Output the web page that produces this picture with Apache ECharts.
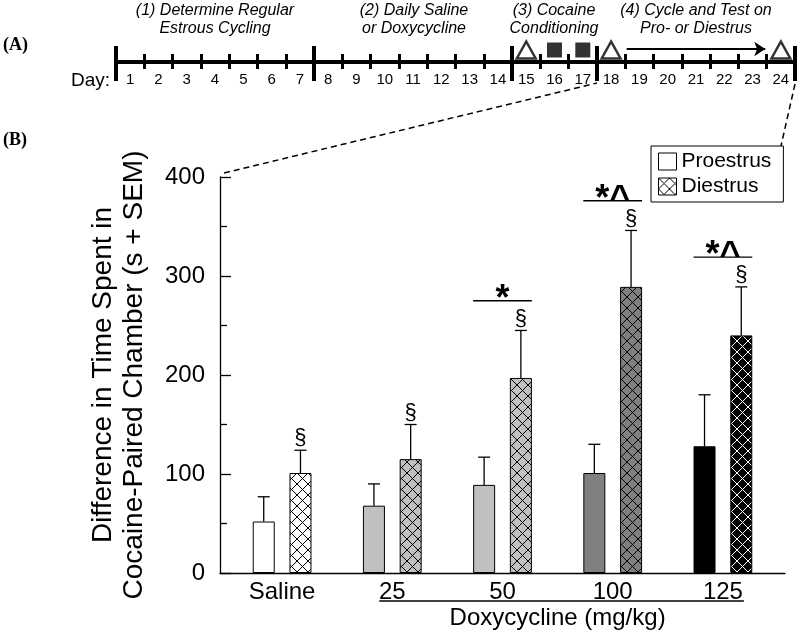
<!DOCTYPE html>
<html>
<head>
<meta charset="utf-8">
<script src="https://cdn.jsdelivr.net/npm/echarts@6/dist/echarts.min.js"></script>
<style>
  html, body { margin: 0; padding: 0; background: #fff; }
  #main { width: 800px; height: 634px; }
</style>
</head>
<body>
<div id="main"></div>
<script>
// group data (s, mean + SEM)
const doseGroups = ['Saline', '25', '50', '100', '125']
const proestrusMean = [52, 68, 89, 101, 128]
const proestrusSem = [25, 22, 28, 29, 52]
const diestrusMean = [101, 115, 197, 289, 240]
const diestrusSem = [23, 35, 48, 57, 49]
const diestrusMarks = ['§', '§', '§', '§', '§']
const groupMarks = ['', '', '*', '*^', '*^']

// timeline (A)
const days = ['1', '2', '3', '4', '5', '6', '7', '8', '9', '10', '11', '12',
  '13', '14', '15', '16', '17', '18', '19', '20', '21', '22', '23', '24']
const phaseBounds = [0, 7, 14, 17, 24]
const dayBounds = [1, 2, 3, 4, 5, 6, 8, 9, 10, 11, 12, 13, 15, 16, 18, 19, 20, 21, 22, 23]
const testDays = [15, 18, 24]
const cocaineDays = [16, 17]
const cycleArrow = [18.05, 22.95]

const SANS = '"Liberation Sans", Arial, sans-serif'
const SERIF = '"Liberation Serif", "Times New Roman", serif'

const fills = ['#ffffff', '#c0c0c0', '#c0c0c0', '#808080', '#000000']
const hatchLines = ['#000', '#000', '#000', '#000', '#fff']

function hatch(bg, fg) {
  let c = document.createElement('canvas')
  c.width = 11
  c.height = 11
  let g = c.getContext('2d')
  g.fillStyle = bg
  g.fillRect(0, 0, 11, 11)
  g.strokeStyle = fg
  g.lineWidth = 1
  g.beginPath()
  g.moveTo(-1, -1); g.lineTo(12, 12)
  g.moveTo(12, -1); g.lineTo(-1, 12)
  g.stroke()
  return { image: c, repeat: 'repeat' }
}

const barW = 22
const barGap = 0.67
const half = (barW + barW * barGap) / 2

// error bars, § and significance marks
function errorBars(offset, withMarks) {
  return function (params, api) {
    let i = api.value(0)
    let m = api.value(1)
    let s = api.value(2)
    let base = api.coord([i, m])
    let top = api.coord([i, m + s])
    let x = base[0] + offset
    let ln = { stroke: '#000', lineWidth: 1.3 }
    let kids = [
      { type: 'line', shape: { x1: x, y1: base[1], x2: x, y2: top[1] }, style: ln },
      { type: 'line', shape: { x1: x - 6, y1: top[1], x2: x + 6, y2: top[1] }, style: ln }
    ]
    if (withMarks) {
      kids.push({
        type: 'text',
        style: { text: diestrusMarks[i], x: x, y: top[1] - 12, align: 'center', verticalAlign: 'middle',
          font: '22px ' + SANS, fill: '#000' }
      })
      if (groupMarks[i]) {
        let ly = api.coord([i, m + s + 30])[1]
        kids.push({ type: 'line', shape: { x1: base[0] - half - barW / 2, y1: ly, x2: base[0] + half + barW / 2, y2: ly },
          style: ln })
        kids.push({
          type: 'text',
          style: { text: groupMarks[i], x: base[0], y: ly - 1, align: 'center', verticalAlign: 'middle',
            font: 'bold 36px ' + SANS, fill: '#000' }
        })
      }
    }
    return { type: 'group', children: kids }
  }
}

let myChart = echarts.init(document.getElementById('main'), null, { renderer: 'canvas' })

let option = {
  animation: false,
  backgroundColor: '#fff',
  textStyle: { fontFamily: SANS, color: '#000' },
  grid: [
    { left: 227, right: 22, top: 177, bottom: 61 },
    { left: 116, right: 5, top: 40, height: 22 },
    { left: 220, right: 15, top: 177, bottom: 61 }
  ],
  legend: {
    data: [
      { name: 'Proestrus', itemStyle: { color: '#fff', borderColor: '#000', borderWidth: 1 } },
      { name: 'Diestrus', itemStyle: { color: hatch('#fff', '#000'), borderColor: '#000', borderWidth: 1 } }
    ],
    orient: 'vertical',
    left: 651,
    top: 146,
    icon: 'rect',
    itemWidth: 18,
    itemHeight: 17,
    itemGap: 4,
    padding: [5, 12, 5, 7],
    borderColor: '#000',
    borderWidth: 1,
    backgroundColor: '#fff',
    textStyle: { fontSize: 21, color: '#000', fontFamily: SANS }
  },
  xAxis: [
    {
      type: 'category',
      gridIndex: 0,
      data: doseGroups,
      axisLine: { show: false },
      axisTick: { show: false },
      axisLabel: { fontSize: 24, color: '#000', margin: 7, fontFamily: SANS }
    },
    {
      type: 'value', gridIndex: 2, min: 0, max: 1,
      axisLine: { show: true, lineStyle: { color: '#000', width: 1.3 } },
      axisTick: { show: false }, axisLabel: { show: false }, splitLine: { show: false }
    },
    // timeline: main line + small ticks up
    {
      type: 'value', gridIndex: 1, min: 0, max: 24, position: 'bottom',
      axisLine: { show: true, lineStyle: { color: '#000', width: 4 } },
      axisTick: { show: true, inside: true, length: 8, customValues: dayBounds, lineStyle: { color: '#000', width: 3 } },
      axisLabel: { show: false }, splitLine: { show: false }
    },
    {
      type: 'value', gridIndex: 1, min: 0, max: 24, position: 'bottom',
      axisLine: { show: false },
      axisTick: { show: true, inside: false, length: 7, customValues: dayBounds, lineStyle: { color: '#000', width: 3 } },
      axisLabel: { show: false }, splitLine: { show: false }
    },
    {
      type: 'value', gridIndex: 1, min: 0, max: 24, position: 'bottom',
      axisLine: { show: false },
      axisTick: { show: true, inside: true, length: 16, customValues: phaseBounds, lineStyle: { color: '#000', width: 4 } },
      axisLabel: { show: false }, splitLine: { show: false }
    },
    {
      type: 'value', gridIndex: 1, min: 0, max: 24, position: 'bottom',
      axisLine: { show: false },
      axisTick: { show: true, inside: false, length: 19, customValues: phaseBounds, lineStyle: { color: '#000', width: 4 } },
      axisLabel: { show: false }, splitLine: { show: false }
    },
    {
      type: 'category', gridIndex: 1, data: days, position: 'bottom', boundaryGap: true,
      axisLine: { show: false }, axisTick: { show: false },
      axisLabel: { interval: 0, fontSize: 15, color: '#000', margin: 10, fontFamily: SANS }
    }
  ],
  yAxis: [
    {
      type: 'value',
      gridIndex: 0,
      min: 0,
      max: 400,
      interval: 100,
      offset: 7,
      name: 'Difference in Time Spent in\nCocaine-Paired Chamber (s + SEM)',
      nameLocation: 'middle',
      nameRotate: 90,
      nameGap: 70,
      nameTextStyle: { fontSize: 28, lineHeight: 31, color: '#000', fontFamily: SANS },
      axisLine: { show: true, lineStyle: { color: '#000', width: 1.3 } },
      axisTick: { show: true, inside: true, length: 11, lineStyle: { color: '#000', width: 1.3 } },
      minorTick: { show: true, splitNumber: 2, length: 7, lineStyle: { color: '#000', width: 1.3 } },
      axisLabel: { fontSize: 24, color: '#000', margin: 15, fontFamily: SANS },
      splitLine: { show: false }
    },
    { type: 'value', gridIndex: 1, min: 0, max: 22, show: false },
    { type: 'value', gridIndex: 2, min: 0, max: 1, show: false }
  ],
  series: [
    {
      name: 'Proestrus',
      type: 'bar',
      xAxisIndex: 0,
      yAxisIndex: 0,
      barWidth: barW,
      barGap: '67%',
      itemStyle: { color: '#fff', borderColor: '#000', borderWidth: 1 },
      data: proestrusMean.map((v, i) => ({ value: v, itemStyle: { color: fills[i] } }))
    },
    {
      name: 'Diestrus',
      type: 'bar',
      xAxisIndex: 0,
      yAxisIndex: 0,
      barWidth: barW,
      itemStyle: { color: hatch('#fff', '#000'), borderColor: '#000', borderWidth: 1 },
      data: diestrusMean.map((v, i) => ({ value: v, itemStyle: { color: hatch(fills[i], hatchLines[i]) } }))
    },
    {
      name: 'errP',
      type: 'custom',
      xAxisIndex: 0,
      yAxisIndex: 0,
      z: 5,
      renderItem: errorBars(-half, false),
      data: proestrusMean.map((v, i) => [i, v, proestrusSem[i]])
    },
    {
      name: 'errD',
      type: 'custom',
      xAxisIndex: 0,
      yAxisIndex: 0,
      z: 5,
      renderItem: errorBars(half, true),
      data: diestrusMean.map((v, i) => [i, v, diestrusSem[i]])
    },
    {
      name: 'test',
      type: 'scatter',
      xAxisIndex: 2,
      yAxisIndex: 1,
      symbol: 'triangle',
      symbolSize: [19, 17],
      itemStyle: { color: '#fff', borderColor: '#000', borderWidth: 2.4 },
      data: testDays.map(d => [d - 0.5, 12])
    },
    {
      name: 'cocaine',
      type: 'scatter',
      xAxisIndex: 2,
      yAxisIndex: 1,
      symbol: 'rect',
      symbolSize: 15,
      itemStyle: { color: '#000' },
      data: cocaineDays.map(d => [d - 0.5, 12])
    },
    {
      name: 'cycle',
      type: 'lines',
      coordinateSystem: 'cartesian2d',
      xAxisIndex: 2,
      yAxisIndex: 1,
      symbol: ['none', 'arrow'],
      symbolSize: 11,
      lineStyle: { color: '#000', width: 2, opacity: 1 },
      data: [{ coords: cycleArrow.map(d => [d, 13]) }]
    }
  ]
}

myChart.setOption(option)

// Doxycycline underline + label, placed under the dose categories
let x25 = myChart.convertToPixel({ xAxisIndex: 0 }, '25')
let x125 = myChart.convertToPixel({ xAxisIndex: 0 }, '125')

myChart.setOption({
  graphic: [
    { type: 'text', left: 3, top: 36, style: { text: '(A)', font: 'bold 18px ' + SERIF, fill: '#000' } },
    { type: 'text', left: 3, top: 131, style: { text: '(B)', font: 'bold 18px ' + SERIF, fill: '#000' } },
    { type: 'text', x: 110, y: 81, style: { text: 'Day:', font: '19px ' + SANS, fill: '#000', align: 'right', verticalAlign: 'middle' } },
    { type: 'text', x: 215, y: 20, style: { text: '(1) Determine Regular\nEstrous Cycling', font: 'italic 16px ' + SANS, lineHeight: 18, fill: '#000', align: 'center', verticalAlign: 'middle' } },
    { type: 'text', x: 414, y: 20, style: { text: '(2) Daily Saline\nor Doxycycline', font: 'italic 16px ' + SANS, lineHeight: 18, fill: '#000', align: 'center', verticalAlign: 'middle' } },
    { type: 'text', x: 554, y: 20, style: { text: '(3) Cocaine\nConditioning', font: 'italic 16px ' + SANS, lineHeight: 18, fill: '#000', align: 'center', verticalAlign: 'middle' } },
    { type: 'text', x: 696, y: 20, style: { text: '(4) Cycle and Test on\nPro- or Diestrus', font: 'italic 16px ' + SANS, lineHeight: 18, fill: '#000', align: 'center', verticalAlign: 'middle' } },
    { type: 'line', shape: { x1: 224, y1: 173, x2: 597, y2: 83 }, style: { stroke: '#000', lineWidth: 1.5, lineDash: [6, 4] } },
    { type: 'line', shape: { x1: 795, y1: 84, x2: 781, y2: 146 }, style: { stroke: '#000', lineWidth: 1.5, lineDash: [6, 4] } },
    { type: 'line', shape: { x1: x25 - 13, y1: 601, x2: x125 + 21, y2: 601 }, style: { stroke: '#000', lineWidth: 1.5 } },
    { type: 'text', x: (x25 + x125) / 2, y: 618, style: { text: 'Doxycycline (mg/kg)', font: '24px ' + SANS, fill: '#000', align: 'center', verticalAlign: 'middle' } }
  ]
})
</script>
</body>
</html>
